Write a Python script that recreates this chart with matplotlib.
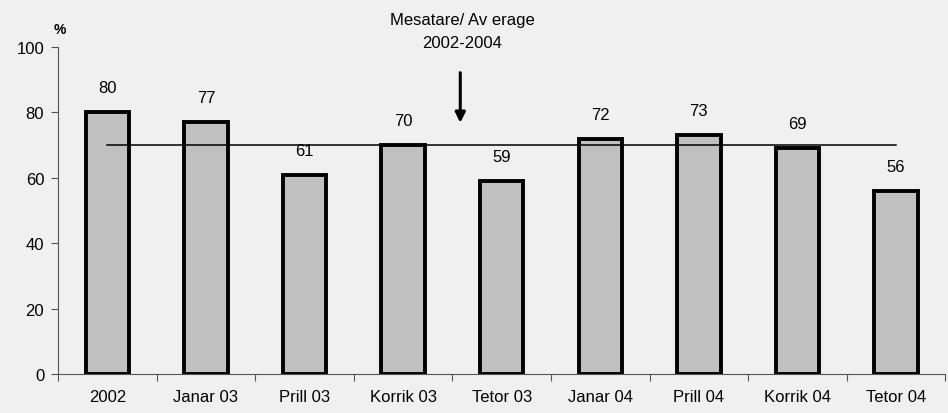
import matplotlib.pyplot as plt
import numpy as np

plt.rcParams['font.family'] = ['Liberation Sans', 'DejaVu Sans']

kategorite = ['2002', 'Janar 03', 'Prill 03', 'Korrik 03', 'Tetor 03',
              'Janar 04', 'Prill 04', 'Korrik 04', 'Tetor 04']
vlerat = [80, 77, 61, 70, 59, 72, 73, 69, 56]
mesatarja = 70

fig = plt.figure(figsize=(9.48, 4.14), dpi=100, facecolor='#f0f0f0')
ax = fig.add_axes([0.0612, 0.094, 0.936, 0.79])
ax.set_facecolor('#f0f0f0')

fs = 12
x = np.arange(len(kategorite))
ax.bar(x, vlerat, width=0.44, color='#c0c0c0', edgecolor='black', linewidth=2.8, zorder=2)
for xi, v in zip(x, vlerat):
    ax.text(xi, v + 7.5, str(v), ha='center', va='center', fontsize=fs)

ax.plot([x[0], x[-1]], [mesatarja, mesatarja], color='black', linewidth=1.1, zorder=3)

ax.annotate('', xy=(3.58, 76), xytext=(3.58, 93),
            arrowprops=dict(arrowstyle='-|>', color='black', lw=2.2, mutation_scale=15),
            annotation_clip=False)
fig.text(462 / 948, 1 - 20 / 414, 'Mesatare/ Av erage', ha='center', va='center', fontsize=fs)
fig.text(462 / 948, 1 - 44 / 414, '2002-2004', ha='center', va='center', fontsize=fs)
fig.text(60 / 948, 1 - 30 / 414, '%', ha='center', va='center', fontsize=10, fontweight='bold')

ax.set_xlim(-0.5, len(kategorite) - 0.5)
ax.set_ylim(0, 100)
ax.set_yticks(range(0, 101, 20))
ax.tick_params(axis='y', labelsize=fs, length=5, width=0.8, color='#555555', pad=5)

ax.set_xticks(np.arange(len(kategorite) + 1) - 0.5)
ax.set_xticklabels([])
ax.set_xticks(x, minor=True)
ax.set_xticklabels(kategorite, minor=True)
ax.tick_params(axis='x', which='major', length=5, width=0.8, color='#555555', direction='out')
ax.tick_params(axis='x', which='minor', length=0, labelsize=fs, pad=11)

for s in ['top', 'right']:
    ax.spines[s].set_visible(False)
for s in ['left', 'bottom']:
    ax.spines[s].set_color('#555555')
    ax.spines[s].set_linewidth(0.8)

plt.savefig('out.png', dpi=100, facecolor=fig.get_facecolor())
